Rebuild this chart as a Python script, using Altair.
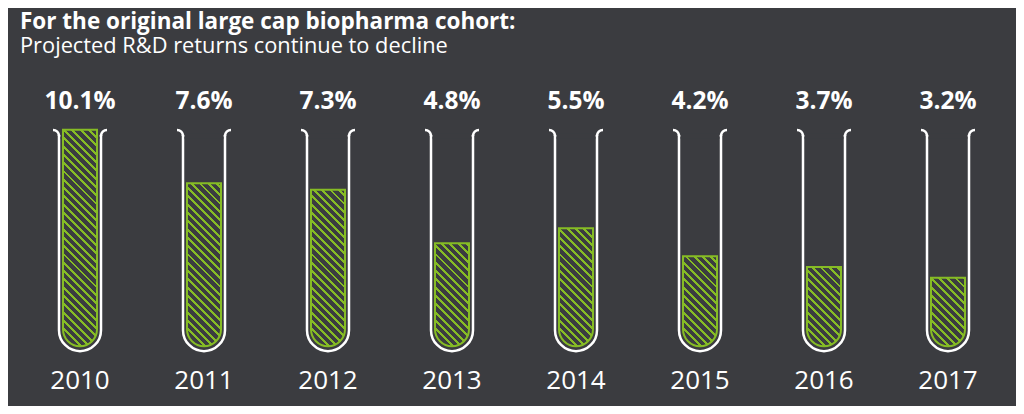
import math
import altair as alt
import pandas as pd

# ---- data -------------------------------------------------------------
years = ["2010", "2011", "2012", "2013", "2014", "2015", "2016", "2017"]
returns = [10.1, 7.6, 7.3, 4.8, 5.5, 4.2, 3.7, 3.2]
labels = ["10.1%", "7.6%", "7.3%", "4.8%", "5.5%", "4.2%", "3.7%", "3.2%"]

title_text = "For the original large cap biopharma cohort:"
subtitle_text = "Projected R&D returns continue to decline"

# ---- style / layout constants ----------------------------------------
BG = "#3b3c40"
GREEN = "#86bc25"
WHITE = "#ffffff"
FONT = "Open Sans"

W, H = 1008, 398
PX_PER_UNIT = 21.43
Y_MIN = -2.79
Y_MAX = Y_MIN + H / PX_PER_UNIT
TUBE_TOP = 9.81        # level where the tube's straight walls end
TUBE_BOTTOM = -0.23    # outer bottom of the tube
BAR_W = 34
TUBE_W = 42
LIP_R = 6
TUBE_SW = 2.5
HATCH_P = 8.3          # horizontal period of hatch lines (px)
HATCH_G = 2.9          # horizontal width of a green hatch line (px)

df = pd.DataFrame({"year": years, "value": returns, "label": labels})
titles_df = pd.DataFrame({"title": [title_text], "subtitle": [subtitle_text]})

x_enc = alt.X("year:N", sort=years,
              scale=alt.Scale(range=[10, 1002], paddingInner=0, paddingOuter=0),
              axis=None)
y_scale = alt.Scale(domain=[Y_MIN, Y_MAX], nice=False, zero=False)

base = alt.Chart(df)

# tube body (white U)
tube = base.mark_bar(
    size=TUBE_W, fill=BG, stroke=WHITE, strokeWidth=TUBE_SW,
    cornerRadiusBottomLeft=TUBE_W / 2, cornerRadiusBottomRight=TUBE_W / 2,
).encode(
    x=x_enc,
    y=alt.YDatum(TUBE_TOP, type="quantitative", scale=y_scale, axis=None),
    y2=alt.Y2Datum(TUBE_BOTTOM),
)

# hide the top edge of the tube rectangle (open tube)
cover = base.mark_bar(size=TUBE_W - TUBE_SW - 0.2, fill=BG, strokeWidth=0).encode(
    x=x_enc,
    y=alt.YDatum(TUBE_TOP + 0.12, type="quantitative"),
    y2=alt.Y2Datum(TUBE_TOP - 0.12),
)

# lips curling outward
lip_left = base.mark_arc(
    theta=0, theta2=math.pi / 2,
    radius=LIP_R + TUBE_SW / 2, radius2=LIP_R - TUBE_SW / 2,
    fill=WHITE, xOffset=-(TUBE_W / 2 + LIP_R),
).encode(x=x_enc, y=alt.YDatum(TUBE_TOP, type="quantitative"))

lip_right = base.mark_arc(
    theta=3 * math.pi / 2, theta2=2 * math.pi,
    radius=LIP_R + TUBE_SW / 2, radius2=LIP_R - TUBE_SW / 2,
    fill=WHITE, xOffset=(TUBE_W / 2 + LIP_R),
).encode(x=x_enc, y=alt.YDatum(TUBE_TOP, type="quantitative"))


def hatch_gradient(v):
    """Diagonal (\\) hatch as a hard-stop linear gradient for a bar of value v."""
    w = BAR_W
    h = v * PX_PER_UNIT
    L = w + h
    c = L / (w * w + h * h)
    stops = []
    k = -1
    while k * HATCH_P < L + HATCH_P:
        s = k * HATCH_P
        for off, col in ((s, GREEN), (s + HATCH_G, GREEN),
                         (s + HATCH_G, BG), (s + HATCH_P, BG)):
            t = min(max(off / L, 0.0), 1.0)
            stops.append({"offset": t, "color": col})
        k += 1
    return alt.LinearGradient(gradient="linear", x1=0, y1=1, x2=c * w, y2=1 - c * h,
                              stops=stops)


bars = []
for yr, v in zip(years, returns):
    bars.append(
        base.transform_filter(alt.datum.year == yr).mark_bar(
            size=BAR_W, stroke=GREEN, strokeWidth=2,
            fill=hatch_gradient(v),
            cornerRadiusBottomLeft=BAR_W / 2, cornerRadiusBottomRight=BAR_W / 2,
        ).encode(
            x=x_enc,
            y=alt.Y("value:Q"),
            y2=alt.Y2Datum(0),
        )
    )

value_labels = base.mark_text(
    font=FONT, fontSize=24.5, fontWeight="bold", color=WHITE, baseline="alphabetic",
).encode(x=x_enc, y=alt.value(100.7), text="label:N")

year_labels = base.mark_text(
    font=FONT, fontSize=26, color=WHITE, baseline="alphabetic",
).encode(x=x_enc, y=alt.value(381.3), text="year:N")

title_mark = alt.Chart(titles_df).mark_text(
    font=FONT, fontSize=22.5, fontWeight="bold", color=WHITE,
    align="left", baseline="alphabetic",
).encode(x=alt.value(12), y=alt.value(20.6), text="title:N")

subtitle_mark = alt.Chart(titles_df).mark_text(
    font=FONT, fontSize=21.8, color=WHITE,
    align="left", baseline="alphabetic",
).encode(x=alt.value(12), y=alt.value(45.3), text="subtitle:N")

chart = alt.layer(
    tube, cover, lip_left, lip_right, *bars, value_labels, year_labels,
    title_mark, subtitle_mark,
).properties(
    width=W, height=H,
    autosize=alt.AutoSizeParams(type="none"),
    padding=0,
    background=BG,
).configure_view(stroke=None)

chart.save("out.html", embed_options={"renderer": "svg", "actions": False})
